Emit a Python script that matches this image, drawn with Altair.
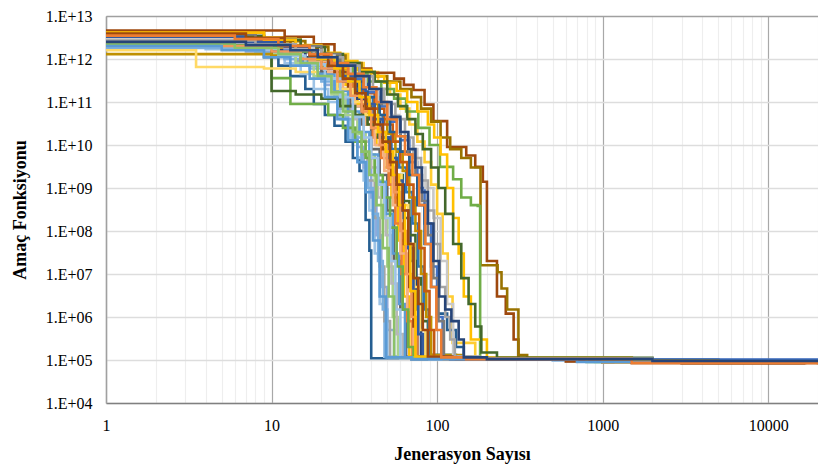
import altair as alt
import pandas as pd

# ---- runs: generation breakpoints and objective values (step-after) ----
gen_01 = [1, 5, 9, 11, 13, 16, 18, 21, 24, 28, 31, 34, 37, 39, 40, 70, 400, 5000, 20000]
val_01 = [2.4e12, 1.8e12, 1.1e12, 7e11, 4e11, 2e11, 9e10, 5e10, 2.8e10, 1.2e10, 5e9, 2.5e9, 1.8e8, 3.5e7, 1.1e5, 1.05e5, 1.02e5, 1.0e5, 1.0e5]
gen_02 = [1, 4, 9, 12, 15, 18, 22, 26, 30, 33, 36, 39, 42, 45, 48, 60, 500, 20000]
val_02 = [2.0e12, 1.7e12, 1.2e12, 8e11, 4.5e11, 2e11, 1e11, 4e10, 1.5e10, 5e9, 1.5e9, 3e8, 3e7, 2e6, 1.2e5, 1.08e5, 9.6e4, 9e4]
gen_03 = [1, 7, 12, 17, 21, 25, 29, 33, 36, 40, 43, 46, 50, 55, 80, 1000, 20000]
val_03 = [2.2e12, 1.5e12, 1.0e12, 6e11, 2.5e11, 7e10, 2.5e10, 9e9, 3e9, 6e8, 8e7, 5e6, 5e5, 1.2e5, 1.1e5, 9.2e4, 8.8e4]
gen_04 = [1, 6, 10, 14, 19, 23, 27, 31, 35, 38, 42, 45, 48, 52, 70, 600, 20000]
val_04 = [3.0e12, 2.2e12, 1.4e12, 9e11, 5e11, 2e11, 7e10, 2e10, 6e9, 1.5e9, 2e8, 1.5e7, 8e5, 1.15e5, 1.08e5, 9.3e4, 8.9e4]
gen_05 = [1, 8, 12, 16, 20, 24, 28, 31, 35, 38, 41, 44, 47, 50, 70, 800, 20000]
val_05 = [1.8e12, 1.4e12, 1.0e12, 7e11, 3e11, 1.2e11, 4e10, 1.5e10, 4e9, 1e9, 2.5e8, 2e7, 1.5e6, 1.15e5, 1.08e5, 9.6e4, 9.2e4]
gen_06 = [1, 5, 10, 14, 18, 23, 28, 33, 37, 42, 46, 50, 54, 58, 90, 900, 20000]
val_06 = [2.5e12, 2.0e12, 1.3e12, 8e11, 4e11, 1.5e11, 5e10, 1.8e10, 6e9, 1.5e9, 2e8, 1.5e7, 1e6, 1.2e5, 1.1e5, 9e4, 8.6e4]
gen_07 = [1, 9, 13, 17, 22, 26, 31, 36, 40, 44, 49, 53, 57, 62, 90, 1000, 20000]
val_07 = [3.5e12, 2.2e12, 1.4e12, 8e11, 3.5e11, 1.2e11, 4e10, 1.2e10, 3e9, 6e8, 8e7, 6e6, 4e5, 1.12e5, 1.06e5, 9.4e4, 9e4]
gen_08 = [1, 7, 11, 15, 20, 25, 30, 35, 40, 45, 50, 55, 60, 65, 100, 1000, 20000]
val_08 = [3.2e12, 2.4e12, 1.6e12, 1.0e12, 5e11, 2e11, 8e10, 3e10, 8e9, 2e9, 3e8, 2e7, 1.5e6, 1.15e5, 1.08e5, 8.8e4, 8.4e4]
gen_09 = [1, 6, 10, 15, 19, 24, 29, 34, 39, 44, 49, 54, 59, 64, 100, 1000, 20000]
val_09 = [2.8e12, 2.1e12, 1.5e12, 9e11, 4.5e11, 1.8e11, 6e10, 2e10, 6e9, 1.4e9, 2.5e8, 3e7, 2e6, 1.15e5, 1.1e5, 9e4, 8.5e4]
gen_10 = [1, 8, 13, 18, 23, 28, 33, 38, 43, 48, 53, 58, 63, 68, 100, 1000, 20000]
val_10 = [3.8e12, 2.6e12, 1.7e12, 1.1e12, 6e11, 2.5e11, 9e10, 3e10, 1e10, 3e9, 6e8, 6e7, 3e6, 1.2e5, 1.12e5, 9.5e4, 9.1e4]
gen_11 = [1, 6, 11, 16, 21, 26, 31, 36, 41, 46, 51, 56, 61, 66, 71, 100, 1000, 20000]
val_11 = [4.0e12, 3.0e12, 1.8e12, 1.1e12, 6e11, 3e11, 1.2e11, 4e10, 1.5e10, 5e9, 1.2e9, 1.5e8, 1e7, 8e5, 1.15e5, 1.1e5, 8.6e4, 8.2e4]
gen_12 = [1, 7, 12, 17, 22, 27, 32, 37, 42, 48, 54, 60, 66, 72, 110, 1200, 20000]
val_12 = [3.3e12, 2.5e12, 1.5e12, 9e11, 5e11, 2e11, 8e10, 3e10, 1e10, 2.5e9, 4e8, 3e7, 1.5e6, 1.15e5, 1.1e5, 8.9e4, 8.5e4]
gen_13 = [1, 9, 14, 19, 24, 29, 35, 41, 47, 53, 58, 63, 68, 72, 76, 110, 1000, 20000]
val_13 = [4.3e12, 3.0e12, 1.8e12, 1.0e12, 5e11, 2e11, 8e10, 2.5e10, 8e9, 2e9, 4e8, 5e7, 5e6, 6e5, 1.2e5, 1.1e5, 8.6e4, 8.0e4]
gen_14 = [1, 5, 10, 16, 22, 27, 33, 39, 45, 51, 57, 63, 69, 75, 80, 120, 1500, 20000]
val_14 = [3.0e12, 2.2e12, 1.6e12, 1.1e12, 6e11, 3e11, 1.2e11, 4e10, 1.5e10, 5e9, 1.2e9, 2e8, 2e7, 1.5e6, 1.2e5, 1.1e5, 9.3e4, 9e4]
gen_15 = [1, 6, 10, 13, 22, 27, 32, 37, 42, 47, 52, 57, 62, 67, 72, 110, 1000, 12500, 20000]
val_15 = [2.7e12, 1.9e12, 3.6e11, 9e10, 5e10, 2.5e10, 1.2e10, 5e9, 2e9, 6e8, 1.2e8, 1.5e7, 1.5e6, 2e5, 1.15e5, 1.06e5, 9e4, 8.6e4, 8.6e4]
gen_16 = [1, 8, 10, 14, 20, 26, 32, 38, 44, 50, 56, 62, 68, 74, 80, 88, 130, 1500, 12500]
val_16 = [3.5e12, 2.5e12, 1.8e11, 1.5e11, 1.2e11, 8e10, 5e10, 3e10, 1.5e10, 6e9, 2e9, 5e8, 8e7, 8e6, 8e5, 1.3e5, 1.12e5, 9.4e4, 8.9e4]
gen_17 = [1, 7, 12, 17, 23, 29, 35, 41, 47, 53, 59, 65, 71, 77, 83, 89, 130, 1500, 20000]
val_17 = [2.9e12, 2.3e12, 1.7e12, 1.1e12, 6e11, 3e11, 1.3e11, 5e10, 2e10, 8e9, 3e9, 8e8, 1.5e8, 1.5e7, 1.5e6, 1.3e5, 1.06e5, 9e4, 8.8e4]
gen_18 = [1, 10, 15, 20, 26, 32, 38, 44, 50, 56, 62, 68, 74, 80, 86, 92, 140, 1500, 20000]
val_18 = [1.3e12, 1.2e12, 1.0e12, 7e11, 4e11, 2e11, 9e10, 4e10, 1.8e10, 7e9, 2.5e9, 6e8, 1e8, 1e7, 1e6, 1.3e5, 1.12e5, 9.6e4, 9.2e4]
gen_19 = [1, 3.5, 9, 14, 19, 25, 31, 37, 43, 49, 55, 61, 67, 73, 79, 85, 130, 1200, 20000]
val_19 = [1.6e12, 6.5e11, 6e11, 5e11, 3.5e11, 2e11, 1e11, 5e10, 2e10, 7e9, 2e9, 4e8, 5e7, 5e6, 5e5, 1.2e5, 1.05e5, 8.8e4, 8.4e4]
gen_20 = [1, 8, 13, 18, 24, 30, 36, 42, 48, 54, 60, 66, 72, 78, 84, 90, 96, 140, 1500, 20000]
val_20 = [3.6e12, 2.8e12, 1.9e12, 1.2e12, 7e11, 3.5e11, 1.6e11, 7e10, 3e10, 1.2e10, 4e9, 1.2e9, 2.5e8, 4e7, 4e6, 5e5, 1.15e5, 1.05e5, 8.4e4, 8.0e4]
gen_21 = [1, 6, 12, 18, 24, 31, 38, 45, 52, 60, 68, 76, 84, 92, 100, 108, 150, 2000, 20000]
val_21 = [3.1e12, 2.5e12, 1.7e12, 1.1e12, 6.5e11, 3.5e11, 1.7e11, 8e10, 3.5e10, 1.3e10, 4e9, 1e9, 1.5e8, 1.5e7, 1e6, 1.15e5, 1.08e5, 1.02e5, 1.01e5]
gen_22 = [1, 9, 15, 22, 29, 36, 44, 52, 60, 68, 76, 84, 92, 100, 108, 116, 124, 170, 1500, 20000]
val_22 = [4.4e12, 3.2e12, 2.0e12, 1.3e12, 8e11, 5e11, 3e11, 1.5e11, 7e10, 3e10, 1.2e10, 4e9, 1.2e9, 2.5e8, 3e7, 3e6, 2.5e5, 1.12e5, 9.2e4, 8.6e4]
gen_23 = [1, 6, 11, 16, 21, 26, 31, 36, 40, 44, 48, 52, 56, 60, 90, 800, 20000]
val_23 = [2.1e12, 1.7e12, 1.2e12, 7.5e11, 3.5e11, 1.3e11, 4.5e10, 1.5e10, 5e9, 1.2e9, 2e8, 2e7, 1.5e6, 1.15e5, 1.05e5, 9e4, 8.6e4]
gen_24 = [1, 7, 13, 19, 25, 31, 38, 45, 52, 60, 68, 76, 84, 92, 100, 115, 130, 145, 200, 2000, 20000]
val_24 = [2.6e12, 2.1e12, 1.5e12, 1.0e12, 6e11, 3e11, 1.3e11, 5e10, 2e10, 7e9, 2e9, 4e8, 5e7, 5e6, 1.2e6, 5e5, 2e5, 1.1e5, 1.02e5, 9.4e4, 9.2e4]
gen_25 = [1, 12, 18, 24, 27, 40, 55, 63, 72, 84, 95, 115, 150, 170, 189, 200, 230, 260, 290, 310, 600, 3000, 16700]
val_25 = [4.6e12, 3.3e12, 2.2e12, 1.1e12, 6e11, 4.8e11, 3.5e11, 2.5e11, 1.9e11, 8.7e10, 3.6e10, 9e9, 5.7e9, 3.1e9, 1.4e9, 2e7, 3e6, 1.2e6, 3e5, 1.1e5, 9.2e4, 8.4e4, 8e4]
gen_26 = [1, 10, 16, 22, 28, 35, 42, 50, 60, 70, 80, 92, 105, 120, 140, 160, 183, 232, 245, 265, 310, 350, 1000, 5000, 20000]
val_26 = [3.0e12, 2.6e12, 1.9e12, 1.2e12, 8e11, 5e11, 4e11, 3e11, 2e11, 1.3e11, 7e10, 3.5e10, 1.5e10, 8e9, 5e9, 3e9, 1.6e7, 1.1e7, 4.6e6, 1.5e6, 1.3e5, 1.1e5, 9.6e4, 9.0e4, 8.8e4]
gen_27 = [1, 7, 13, 19, 25, 31, 38, 46, 55, 65, 77, 90, 104, 125, 140, 160, 176, 182, 200, 1000, 12500]
val_27 = [2.2e12, 1.9e12, 1.5e12, 1.0e12, 7e11, 4.5e11, 3e11, 2e11, 1.2e11, 6e10, 2.5e10, 1e10, 3.1e9, 1.6e9, 6e8, 4e8, 3.8e8, 1.15e5, 1.05e5, 9e4, 8.5e4]
gen_28 = [1, 8, 14, 20, 26, 33, 40, 48, 57, 66, 76, 88, 96, 105, 115, 125, 135, 145, 160, 200, 1500, 20000]
val_28 = [3.9e12, 3.0e12, 2.1e12, 1.4e12, 9e11, 5.5e11, 4e11, 2.8e11, 1.8e11, 1e11, 6e10, 3e10, 1.5e10, 6e9, 1e9, 2e8, 3e7, 3e6, 3e5, 1.1e5, 9e4, 8.4e4]
gen_29 = [1, 9, 15, 21, 27, 34, 42, 50, 58, 66, 74, 82, 92, 102, 112, 125, 140, 155, 170, 185, 230, 2000, 20000]
val_29 = [3.4e12, 2.8e12, 1.9e12, 1.3e12, 8e11, 5e11, 3e11, 1.5e11, 8e10, 4e10, 1.8e10, 8e9, 3e9, 1e9, 2.5e8, 5e7, 8e6, 2e6, 6e5, 1.5e5, 1.12e5, 9.2e4, 8.7e4]
gen_30 = [1, 5, 10, 15, 20, 25, 30, 35, 40, 45, 50, 55, 60, 65, 70, 75, 110, 1000, 20000]
val_30 = [2.4e12, 2.0e12, 1.5e12, 1.0e12, 6e11, 3e11, 1.4e11, 6e10, 2.5e10, 1e10, 3e9, 8e8, 1e8, 1e7, 1e6, 1.15e5, 1.05e5, 8.8e4, 8.4e4]
gen_31 = [1, 8, 14, 20, 26, 32, 39, 46, 53, 60, 67, 74, 81, 88, 95, 102, 110, 160, 1500, 20000]
val_31 = [3.7e12, 2.9e12, 2.0e12, 1.3e12, 7.5e11, 4e11, 2e11, 9e10, 4e10, 1.6e10, 6e9, 2e9, 5e8, 8e7, 8e6, 8e5, 1.2e5, 1.08e5, 9e4, 8.6e4]
gen_32 = [1, 6, 12, 18, 24, 30, 37, 44, 51, 59, 67, 76, 85, 95, 105, 115, 125, 170, 1500, 20000]
val_32 = [2.9e12, 2.4e12, 1.8e12, 1.2e12, 7e11, 4e11, 2e11, 1e11, 5e10, 2e10, 8e9, 3e9, 1e9, 2e8, 2e7, 2e6, 1.2e5, 1.06e5, 9e4, 8.6e4]
gen_33 = [1, 7, 12, 17, 22, 27, 32, 37, 42, 47, 52, 57, 62, 67, 72, 77, 82, 120, 1200, 20000]
val_33 = [3.3e12, 2.5e12, 1.9e12, 1.3e12, 8e11, 4e11, 2e11, 9e10, 4e10, 1.5e10, 5e9, 1.5e9, 3e8, 4e7, 4e6, 4e5, 1.15e5, 1.05e5, 9.3e4, 9e4]
gen_34 = [1, 6, 11, 15, 19, 23, 27, 31, 35, 39, 43, 47, 51, 55, 80, 800, 20000]
val_34 = [2.3e12, 1.8e12, 1.3e12, 8e11, 4e11, 1.7e11, 6e10, 2e10, 7e9, 2e9, 4e8, 4e7, 3e6, 1.15e5, 1.08e5, 9e4, 8.6e4]
gen_35 = [1, 9, 14, 19, 24, 29, 34, 39, 44, 49, 54, 59, 64, 69, 74, 100, 1000, 20000]
val_35 = [4.1e12, 2.8e12, 1.6e12, 1.0e12, 6e11, 3e11, 1.3e11, 5e10, 2e10, 7e9, 2e9, 4e8, 5e7, 4e6, 1.2e5, 1.1e5, 9.2e4, 8.5e4]
gen_36 = [1, 7, 12, 17, 22, 27, 32, 37, 42, 47, 52, 57, 62, 67, 72, 77, 82, 88, 130, 1500, 20000]
val_36 = [3.9e12, 3.1e12, 2.0e12, 1.2e12, 7e11, 3.5e11, 1.6e11, 7e10, 3e10, 1.2e10, 4e9, 1.2e9, 3e8, 5e7, 8e6, 2e6, 5e5, 1.2e5, 1.06e5, 8.6e4, 8.2e4]
gen_37 = [1, 5, 9, 13, 17, 21, 25, 29, 33, 37, 41, 45, 49, 70, 700, 20000]
val_37 = [2.0e12, 1.6e12, 1.1e12, 7e11, 3.5e11, 1.3e11, 4e10, 1.3e10, 4e9, 8e8, 6e7, 3e6, 1.15e5, 1.05e5, 9e4, 8.7e4]
gen_38 = [1, 8, 14, 20, 27, 34, 41, 48, 56, 64, 72, 80, 88, 96, 104, 112, 120, 128, 180, 2000, 20000]
val_38 = [2.7e12, 2.2e12, 1.6e12, 1.1e12, 7e11, 4e11, 2e11, 9e10, 4e10, 1.5e10, 5e9, 1.5e9, 3e8, 5e7, 5e6, 1e6, 3e5, 1.2e5, 1.08e5, 9e4, 8.7e4]
gen_39 = [1, 6, 11, 17, 23, 29, 36, 43, 50, 57, 64, 71, 78, 85, 92, 99, 106, 150, 1500, 20000]
val_39 = [3.5e12, 2.9e12, 2.0e12, 1.3e12, 8e11, 4.5e11, 2.2e11, 1e11, 4e10, 1.6e10, 6e9, 2e9, 4e8, 5e7, 5e6, 5e5, 1.15e5, 1.05e5, 8.6e4, 8.2e4]
gen_40 = [1, 7, 13, 19, 25, 32, 39, 46, 53, 60, 67, 74, 81, 88, 95, 103, 112, 122, 135, 145, 200, 2000, 20000]
val_40 = [2.5e12, 2.1e12, 1.6e12, 1.1e12, 7e11, 4e11, 2e11, 1e11, 4.5e10, 2e10, 8e9, 3e9, 8e8, 1.5e8, 2e7, 3e6, 1.5e6, 8e5, 3e5, 1.15e5, 1.05e5, 9.5e4, 9.3e4]

run_colors = [
    "#255E91", "#9DC3E6", "#8FAADC", "#A5A5A5", "#7CAFDD", "#A9D18E",
    "#B7B7B7", "#636363", "#5B9BD5", "#FFC000", "#ED7D31", "#F4B183",
    "#9E480E", "#264478", "#70AD47", "#43682B", "#2E75B6", "#BF9000",
    "#FFD966", "#C55A11", "#4472C4", "#FFCD33", "#9DC3E6", "#255E91",
    "#9E480E", "#997300", "#70AD47", "#FFC000", "#43682B", "#F1975A",
    "#7B7B7B", "#C9C9C9", "#335AA1", "#8CC168", "#FFC000", "#9E480E",
    "#5B9BD5", "#A5A5A5", "#ED7D31", "#264478",
]

y_ticks = [1e4, 1e5, 1e6, 1e7, 1e8, 1e9, 1e10, 1e11, 1e12, 1e13]
x_ticks = [m * 10 ** e for e in range(5) for m in range(1, 10) if m * 10 ** e <= 20000]

runs = [
    (gen_01, val_01), (gen_02, val_02), (gen_03, val_03), (gen_04, val_04), (gen_05, val_05),
    (gen_06, val_06), (gen_07, val_07), (gen_08, val_08), (gen_09, val_09), (gen_10, val_10),
    (gen_11, val_11), (gen_12, val_12), (gen_13, val_13), (gen_14, val_14), (gen_15, val_15),
    (gen_16, val_16), (gen_17, val_17), (gen_18, val_18), (gen_19, val_19), (gen_20, val_20),
    (gen_21, val_21), (gen_22, val_22), (gen_23, val_23), (gen_24, val_24), (gen_25, val_25),
    (gen_26, val_26), (gen_27, val_27), (gen_28, val_28), (gen_29, val_29), (gen_30, val_30),
    (gen_31, val_31), (gen_32, val_32), (gen_33, val_33), (gen_34, val_34), (gen_35, val_35),
    (gen_36, val_36), (gen_37, val_37), (gen_38, val_38), (gen_39, val_39), (gen_40, val_40),
]

rows = []
run_names = []
for i, (g, v) in enumerate(runs):
    name = f"Run {i + 1:02d}"
    run_names.append(name)
    for j, (gg, vv) in enumerate(zip(g, v)):
        rows.append({"run": name, "gen": gg, "val": vv, "idx": j})
df = pd.DataFrame(rows)

decade_test = "abs(log(datum.value)/LN10 - round(log(datum.value)/LN10)) < 0.0001"
serif = "Liberation Serif"

chart = alt.Chart(df).mark_line(
    interpolate="step-after", strokeWidth=2.6, clip=True
).encode(
    x=alt.X(
        "gen:Q",
        scale=alt.Scale(type="log", domain=[1, 20000], nice=False),
        axis=alt.Axis(
            title="Jenerasyon Sayısı",
            values=x_ticks,
            labelExpr=f"{decade_test} ? format(datum.value, 'd') : ''",
            ticks=False,
            grid=True,
            gridColor={"condition": {"test": decade_test, "value": "#a8a8a8"}, "value": "#eeeeee"},
            gridWidth=1.2,
            domainColor="#808080",
            domainWidth=1.5,
            labelPadding=14,
            titlePadding=12,
            labelFont=serif,
            labelFontSize=16,
            labelColor="#000000",
            titleFont=serif,
            titleFontSize=18,
            titleFontWeight="bold",
            titleColor="#000000",
            labelFlush=False,
            labelOverlap=False,
        ),
    ),
    y=alt.Y(
        "val:Q",
        scale=alt.Scale(type="log", domain=[1e4, 1e13], nice=False),
        axis=alt.Axis(
            title="Amaç Fonksiyonu",
            values=y_ticks,
            labelExpr="'1.E+' + (round(log(datum.value)/LN10) < 10 ? '0' : '') + round(log(datum.value)/LN10)",
            ticks=False,
            grid=True,
            gridColor={"condition": {"test": "datum.value > 5e12", "value": "#a0a0a0"}, "value": "#dddddd"},
            gridWidth=1.5,
            domainColor="#a0a0a0",
            domainWidth=1.5,
            labelPadding=14,
            titlePadding=16,
            labelFont=serif,
            labelFontSize=16,
            labelColor="#000000",
            titleFont=serif,
            titleFontSize=18,
            titleFontWeight="bold",
            titleColor="#000000",
            labelFlush=False,
            labelOverlap=False,
        ),
    ),
    color=alt.Color("run:N", scale=alt.Scale(domain=run_names, range=run_colors), legend=None),
    order=alt.Order("idx:Q"),
).properties(
    width=712,
    height=387,
    autosize=alt.AutoSizeParams(type="none"),
    padding={"left": 98, "top": 8, "right": 0, "bottom": 61},
).configure_view(stroke=None).configure(background="#ffffff")

chart.save("out.html", embed_options={"renderer": "svg", "actions": False})
